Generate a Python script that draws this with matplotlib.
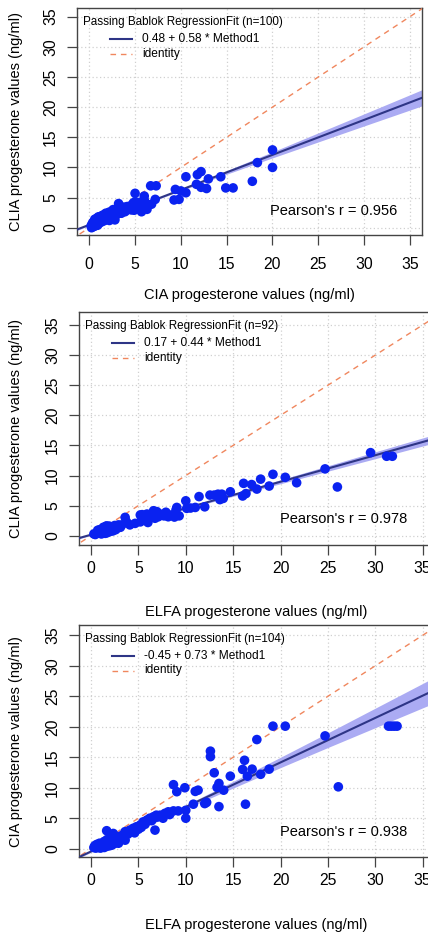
import numpy as np
import matplotlib.pyplot as plt

plt.rcParams['font.family'] = ['Liberation Sans', 'DejaVu Sans']

# ---- panel 1: CIA (x) vs CLIA (y), n=100
p1_x = [20.0, 20.0, 18.35, 17.8, 15.7, 14.9, 14.35, 13.0, 12.8, 12.2, 12.2, 11.8, 11.7,
        10.55, 10.55, 10.0, 9.4, 9.8, 9.25, 7.3, 6.7, 7.2, 6.0, 5.0,
        5.35, 6.1, 6.45, 5.7, 6.3, 5.0, 4.45, 4.1, 3.7, 3.35, 3.0, 3.2, 2.6, 2.45, 2.8, 3.35,
        3.9, 4.6, 5.2, 5.7, 5.0, 5.5, 6.8, 4.8, 3.25, 2.6, 3.5, 2.8, 5.9, 4.9, 6.0, 4.2,
        0.2, 0.25, 0.3, 0.35, 0.4, 0.45, 0.5, 0.55, 0.6, 0.6, 0.7, 0.75, 0.8, 0.85, 0.9, 1.0,
        1.0, 1.05, 1.1, 1.2, 1.25, 1.3, 1.35, 1.4, 1.5, 1.5, 1.6, 1.7, 1.8, 1.8, 1.9, 2.0,
        2.0, 2.1, 2.2, 2.3, 2.35, 0.5, 0.9, 1.15, 0.3, 0.7, 1.6, 2.2]
p1_y = [12.9, 10.0, 10.8, 7.7, 6.6, 6.6, 8.45, 8.1, 6.5, 6.7, 9.3, 8.8, 7.2,
        8.45, 5.8, 6.1, 6.35, 4.7, 4.6, 6.95, 6.95, 4.7, 5.25, 5.7,
        4.0, 3.9, 3.75, 3.5, 3.05, 3.75, 3.6, 3.5, 3.4, 3.5, 3.05, 4.0, 2.65, 1.55, 1.8, 2.4,
        2.65, 2.95, 3.2, 2.65, 4.3, 4.2, 3.9, 4.1, 3.75, 3.0, 2.4, 1.3, 3.4, 2.9, 4.6, 3.0,
        0.3, 0.0, 0.6, 0.2, 0.9, 0.5, 0.7, 1.1, 0.3, 1.4, 0.8, 1.2, 0.5, 1.6, 1.0, 1.3,
        1.8, 0.7, 1.5, 1.1, 1.9, 1.4, 1.7, 1.0, 2.1, 1.3, 1.6, 1.2, 2.4, 1.7, 1.4, 2.0,
        2.4, 1.7, 1.2, 2.2, 1.6, 0.2, 0.4, 0.9, 0.3, 0.6, 2.0, 2.6]

# ---- panel 2: ELFA (x) vs CLIA (y), n=92
p2_x = [29.5, 31.2, 31.8, 24.7, 26.0, 21.7, 20.5, 19.2, 18.8, 17.9, 17.5, 16.95, 16.1,
        16.35, 16.0, 14.7, 13.8, 13.4, 13.0, 12.55, 13.6, 13.95, 12.0, 11.4, 11.0, 10.5,
        10.0, 10.1, 9.05, 8.97, 8.5, 8.15, 7.6, 7.3, 6.95, 6.6, 7.1, 6.75, 6.2, 5.9, 5.5,
        5.2, 5.2, 4.65, 3.75, 3.6, 4.1, 3.25, 2.7, 2.0, 1.65, 1.3,
        9.3, 7.9, 6.0, 5.4, 8.8, 7.7,
        0.3, 0.7, 0.45, 0.9, 1.0, 1.0, 1.1, 1.2, 1.2, 1.3, 1.4, 1.5, 1.5, 1.6, 1.7, 1.7,
        1.8, 1.9, 2.0, 2.1, 2.2, 2.3, 2.4, 2.5, 2.6, 2.8, 0.9, 1.3, 1.6, 2.0, 0.7, 1.1,
        2.9, 3.1]
p2_y = [13.8, 13.2, 13.2, 11.1, 8.1, 8.8, 9.7, 10.2, 8.25, 9.4, 7.75, 8.5, 8.7,
        7.0, 6.6, 7.3, 6.9, 6.9, 6.75, 6.75, 6.0, 6.2, 4.8, 6.5, 4.7, 4.6,
        5.8, 4.55, 4.7, 4.3, 3.45, 3.15, 3.45, 3.6, 4.0, 4.15, 3.15, 2.9, 3.15, 3.6, 3.15,
        3.45, 2.3, 2.05, 2.3, 3.05, 1.8, 1.8, 1.5, 1.2, 1.6, 1.4,
        3.3, 3.9, 2.2, 3.5, 3.1, 3.3,
        0.3, 0.5, 0.2, 0.6, 0.4, 0.8, 0.3, 0.6, 1.0, 0.5, 0.8, 0.4, 1.1, 0.7, 1.3, 0.5,
        0.9, 1.6, 0.7, 1.0, 1.4, 0.8, 1.2, 1.7, 1.0, 1.3, 1.0, 1.2, 1.6, 1.5, 0.9, 0.7,
        1.8, 1.4]

# ---- panel 3: ELFA (x) vs CIA (y), n=104
p3_x = [19.2, 20.5, 31.4, 31.7, 32.0, 32.3, 24.7, 26.1, 17.5, 12.6, 12.6, 16.2, 16.0,
        17.0, 18.8, 17.9, 16.5, 14.7, 13.0, 13.5, 13.3, 14.0, 11.3, 11.0, 9.9, 8.7, 9.05,
        12.0, 12.2, 10.8, 13.5, 16.3, 10.0, 10.0, 9.2, 8.7, 8.15, 7.8, 7.3, 6.9, 6.6, 6.2,
        5.9, 6.75, 5.5, 5.2, 4.8, 4.45, 4.1, 3.6, 3.6, 1.65, 2.35, 2.7, 3.05,
        7.0, 6.4, 5.7, 5.0, 4.3, 3.9, 8.3, 7.6, 2.5, 3.3, 4.6, 5.3,
        0.3, 0.4, 0.5, 0.6, 0.7, 0.8, 0.9, 1.0, 1.0, 1.1, 1.2, 1.2, 1.3, 1.4, 1.5, 1.5,
        1.6, 1.7, 1.8, 1.9, 2.0, 2.0, 2.1, 2.2, 2.3, 2.4, 2.5, 2.6, 2.8, 2.9, 0.6, 0.9,
        1.4, 1.7, 2.2, 3.0, 3.2]
p3_y = [20.1, 20.1, 20.1, 20.1, 20.1, 20.1, 18.5, 10.15, 17.9, 16.0, 15.1, 14.5, 13.0,
        13.05, 13.05, 12.2, 11.9, 11.9, 12.45, 10.7, 10.05, 9.6, 9.6, 9.4, 10.0, 10.5, 9.35,
        7.4, 7.6, 7.3, 6.9, 7.3, 6.3, 5.0, 6.2, 6.2, 6.05, 5.8, 5.5, 5.5, 5.25, 5.0,
        4.7, 3.05, 4.4, 3.9, 3.6, 3.35, 3.05, 2.8, 1.4, 2.95, 2.5, 1.9, 1.7,
        5.2, 4.6, 4.0, 3.2, 2.8, 2.4, 5.6, 5.0, 1.3, 2.2, 2.6, 3.5,
        0.2, 0.5, 0.1, 0.3, 0.6, 0.2, 0.4, 0.8, 0.1, 0.5, 0.3, 0.9, 0.6, 0.2, 0.9, 0.5,
        1.2, 0.4, 0.8, 1.1, 0.5, 1.4, 0.9, 0.6, 1.2, 0.8, 1.6, 1.0, 1.3, 0.9, 0.7, 0.9,
        1.2, 1.5, 1.8, 2.0, 1.5]

# Passing-Bablok fits and confidence band half-widths
fit_intercept = [0.48, 0.17, -0.45]
fit_slope = [0.58, 0.44, 0.73]
band_x = [-1.5, 5, 10, 15, 20, 25, 30, 37.5]
band_half = [
    [0.15, 0.10, 0.15, 0.30, 0.50, 0.75, 1.00, 1.40],
    [0.12, 0.08, 0.12, 0.22, 0.33, 0.45, 0.57, 0.72],
    [0.15, 0.12, 0.30, 0.55, 0.85, 1.20, 1.60, 2.20],
]
n_obs = [100, 92, 104]
pearson_r = [0.956, 0.978, 0.938]
x_labels = ['CIA progesterone values (ng/ml)',
            'ELFA progesterone values (ng/ml)',
            'ELFA progesterone values (ng/ml)']
y_labels = ['CLIA progesterone values (ng/ml)',
            'CLIA progesterone values (ng/ml)',
            'CIA progesterone values (ng/ml)']
ticks = [0, 5, 10, 15, 20, 25, 30, 35]

# layout in pixels (left, top, right, bottom) and axis limits
W, H = 428, 932
boxes = [(77, 8, 422, 235), (79, 312, 443.5, 545), (79, 625, 443.5, 857.3)]
xlims = [(-1.34, 36.32), (-1.27, 37.2), (-1.27, 37.2)]
ylims = [(-1.21, 36.44), (-1.54, 37.16), (-1.41, 36.69)]
xlabel_pos = [0.5, 0.485, 0.485]
xlabel_off = [60, 67, 67.5]
xtick_pad = [9, 4.5, 4.5]

BLUE = '#0A22F0'
NAVY = '#2E3586'
BAND = '#ABABF3'
ORANGE = '#F0875E'

fig = plt.figure(figsize=(W / 100, H / 100), dpi=100)


def draw_panel(i):
    l, t, r, b = boxes[i]
    ax = fig.add_axes([l / W, (H - b) / H, (r - l) / W, (b - t) / H])
    pw, ph = r - l, b - t
    ax.set_xlim(*xlims[i])
    ax.set_ylim(*ylims[i])
    ax.set_xticks(ticks)
    ax.set_yticks(ticks)
    ax.grid(True, color='#D0D0D0', linestyle=(0, (1, 2)), linewidth=0.9)
    ax.set_axisbelow(True)

    xs = np.array(band_x)
    fit = fit_intercept[i] + fit_slope[i] * xs
    half = np.array(band_half[i])
    ax.fill_between(xs, fit - half, fit + half, color=BAND, lw=0, zorder=2)
    ax.plot([-2, 40], [-2, 40], color=ORANGE, lw=1.0, ls=(0, (4, 3.5)), zorder=3)
    ax.plot(xs, fit, color=NAVY, lw=1.5, zorder=4)
    ax.scatter(p_x[i], p_y[i], s=48, color=BLUE, edgecolors='none', zorder=5)

    ax.text(26.7, 2.75, f"Pearson's r = {pearson_r[i]:.3f}", fontsize=10.5,
            ha='center', va='center', zorder=6)

    # legend drawn R-style (no frame, title left, entries indented)
    def fx(px):
        return px / pw

    def fy(py):
        return 1 - py / ph

    ax.text(fx(6), fy(14), f'Passing Bablok RegressionFit (n={n_obs[i]})',
            transform=ax.transAxes, fontsize=8.4, ha='left', va='center')
    a, s = fit_intercept[i], fit_slope[i]
    ax.plot([fx(33), fx(55)], [fy(31), fy(31)], transform=ax.transAxes,
            color=NAVY, lw=1.5)
    ax.text(fx(65), fy(31), f'{a:.2f} + {s:.2f} * Method1', transform=ax.transAxes,
            fontsize=8.6, ha='left', va='center')
    ax.plot([fx(33), fx(55)], [fy(45.5), fy(45.5)], transform=ax.transAxes,
            color=ORANGE, lw=1.0, ls=(0, (4, 3.5)))
    ax.text(fx(65), fy(45.5), 'identity', transform=ax.transAxes,
            fontsize=8.6, ha='left', va='center')

    for sp in ax.spines.values():
        sp.set_color('#444444')
        sp.set_linewidth(1.0)
    ax.tick_params(direction='out', length=7, width=0.9, color='#444444',
                   labelsize=11.3)
    ax.tick_params(axis='x', pad=xtick_pad[i])
    ax.tick_params(axis='y', pad=6.5)
    for lab in ax.get_yticklabels():
        lab.set_rotation(90)
        lab.set_va('center')

    ax.set_xlabel(x_labels[i], fontsize=10.5)
    ax.xaxis.set_label_coords(xlabel_pos[i], -xlabel_off[i] / ph)
    ax.xaxis.label.set_va('center')
    ax.set_ylabel(y_labels[i], fontsize=10.5)
    ax.yaxis.set_label_coords(-(l - 16) / pw, 0.5)
    ax.yaxis.label.set_va('center')
    return ax


p_x = [p1_x, p2_x, p3_x]
p_y = [p1_y, p2_y, p3_y]
for i in range(3):
    draw_panel(i)

fig.savefig('out.png', dpi=100)
